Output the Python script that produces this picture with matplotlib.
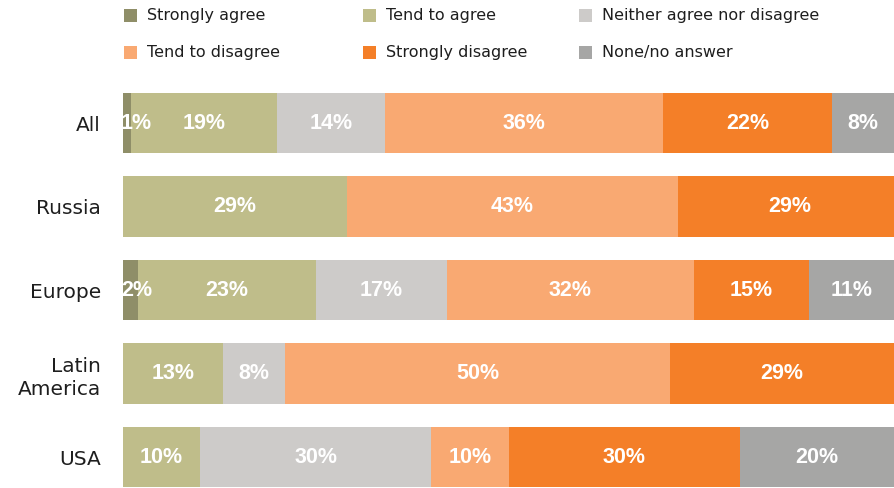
import numpy as np
import matplotlib.pyplot as plt
from matplotlib.patches import Rectangle

# Survey responses by region (% of respondents)
regions = ['All', 'Russia', 'Europe', 'Latin\nAmerica', 'USA']
responses = ['Strongly agree', 'Tend to agree', 'Neither agree nor disagree',
             'Tend to disagree', 'Strongly disagree', 'None/no answer']

strongly_agree    = [1, 0, 2, 0, 0]
tend_agree        = [19, 29, 23, 13, 10]
neither           = [14, 0, 17, 8, 30]
tend_disagree     = [36, 43, 32, 50, 10]
strongly_disagree = [22, 29, 15, 29, 30]
no_answer         = [8, 0, 11, 0, 20]

series = [strongly_agree, tend_agree, neither, tend_disagree,
          strongly_disagree, no_answer]
colours = ['#8f8e68', '#bfbd8a', '#cdcbc9', '#f9a972', '#f47f28', '#a6a6a5']

W, H = 894, 488
fig = plt.figure(figsize=(W / 100, H / 100), dpi=100)
ax = fig.add_axes([123 / W, 0, 771 / W, 406.75 / H])

y = np.arange(len(regions))
left = np.zeros(len(regions))
for vals, col in zip(series, colours):
    vals = np.array(vals, dtype=float)
    ax.barh(y, vals, left=left, height=0.73, color=col, linewidth=0, zorder=1)
    for yi, l, v in zip(y, left, vals):
        if v <= 0:
            continue
        # labels of tiny segments at the bar start are kept inside the bar
        if l == 0 and v < 4:
            x, ha = l - 0.25, 'left'
        else:
            x, ha = l + v / 2, 'center'
        ax.text(x, yi, f'{int(v)}%', ha=ha, va='center',
                color='white', fontsize=15.5, fontweight='bold',
                family='Liberation Sans', zorder=5)
    left += vals

ax.set_xlim(0, 100)
ax.set_ylim(4.371, -0.5)
ax.set_yticks(y)
ax.set_yticklabels(regions, fontsize=14.5, color='#1e1e1e', linespacing=1.3)
ax.tick_params(axis='y', length=0, pad=16)
ax.set_xticks([])
for s in ax.spines.values():
    s.set_visible(False)

# legend: two rows of three entries
leg_x = [124, 363, 579]
leg_y = [9, 46]
for i, (lab, col) in enumerate(zip(responses, colours)):
    px = leg_x[i % 3]
    py = leg_y[i // 3]
    fig.patches.append(Rectangle((px / W, 1 - (py + 13) / H), 13 / W, 13 / H,
                                 transform=fig.transFigure, color=col,
                                 linewidth=0))
    fig.text((px + 23) / W, 1 - (py + 6.5) / H, lab, ha='left', va='center',
             fontsize=11.5, color='#1e1e1e')

fig.savefig('out.png', dpi=100)
